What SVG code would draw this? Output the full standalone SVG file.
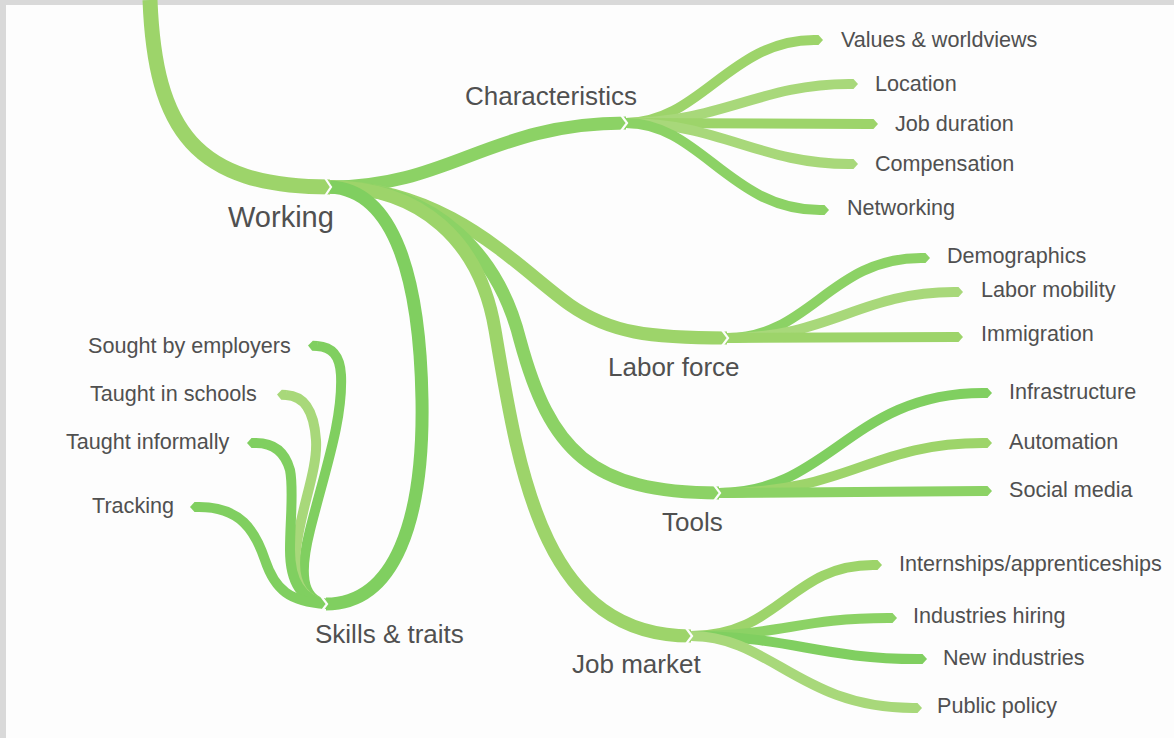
<svg xmlns="http://www.w3.org/2000/svg" width="1174" height="738" viewBox="0 0 1174 738">
<style>
.b{fill:none;stroke-linecap:butt;stroke-linejoin:round}
.g1{stroke:#9dd46a}.g2{stroke:#8cd265}.g3{stroke:#a8d87a}.g4{stroke:#80cf60}
.w14{stroke-width:15}.w12{stroke-width:13}.w10{stroke-width:10}
.sep{fill:none;stroke:#fdfdfd;stroke-width:2.2}
text{font-family:"Liberation Sans",Arial,sans-serif;fill:#505050}
.t1{font-size:29px}.t2{font-size:26px}.t3{font-size:21.6px}
</style>
<defs>
<marker id="m1" markerWidth="1" markerHeight="1" refX="0" refY="0" orient="auto" markerUnits="strokeWidth" viewBox="0 -0.5 1 1" overflow="visible"><path d="M-0.05,-0.5 L0.45,-0.5 L0.9,0 L0.45,0.5 L-0.05,0.5 Z" fill="#9dd46a"/></marker>
<marker id="m2" markerWidth="1" markerHeight="1" refX="0" refY="0" orient="auto" markerUnits="strokeWidth" viewBox="0 -0.5 1 1" overflow="visible"><path d="M-0.05,-0.5 L0.45,-0.5 L0.9,0 L0.45,0.5 L-0.05,0.5 Z" fill="#8cd265"/></marker>
<marker id="m3" markerWidth="1" markerHeight="1" refX="0" refY="0" orient="auto" markerUnits="strokeWidth" viewBox="0 -0.5 1 1" overflow="visible"><path d="M-0.05,-0.5 L0.45,-0.5 L0.9,0 L0.45,0.5 L-0.05,0.5 Z" fill="#a8d87a"/></marker>
<marker id="m4" markerWidth="1" markerHeight="1" refX="0" refY="0" orient="auto" markerUnits="strokeWidth" viewBox="0 -0.5 1 1" overflow="visible"><path d="M-0.05,-0.5 L0.45,-0.5 L0.9,0 L0.45,0.5 L-0.05,0.5 Z" fill="#80cf60"/></marker>
</defs>
<rect x="0" y="0" width="1174" height="738" fill="#d9d9d9"/>
<rect x="6" y="5" width="1168" height="733" fill="#fdfdfd"/>

<g id="connectors">
<path class="b g1 w14" d="M150,0 C155,130 195,187 330,187"/>
<path class="b g2 w12" d="M330,187 C450,187 490,123 626,123"/>
<path class="b g1 w12" d="M330,187 C450,187 520,270 570,305 C610,333 650,338 727,338"/>
<path class="b g2 w12" d="M330,187 C440,187 500,260 520,340 C550,450 590,493 719,493"/>
<path class="b g1 w12" d="M330,187 C420,187 480,240 495,330 C520,480 545,636 691,636"/>
<path class="b g4 w12" d="M330,187 C395,190 420,280 422,400 C424,520 395,604 326,604"/>

<path class="b g1 w10" marker-end="url(#m1)" d="M626,123 C700,123 730,40 814,40"/>
<path class="b g3 w10" marker-end="url(#m3)" d="M626,123 C720,123 760,84 849,84"/>
<path class="b g1 w10" marker-end="url(#m1)" d="M626,123 L869,124"/>
<path class="b g3 w10" marker-end="url(#m3)" d="M626,123 C720,123 760,164 849,164"/>
<path class="b g2 w10" marker-end="url(#m2)" d="M626,123 C700,123 730,210 820,210"/>

<path class="b g2 w10" marker-end="url(#m2)" d="M727,338 C810,338 830,258 921,258"/>
<path class="b g3 w10" marker-end="url(#m3)" d="M727,338 C830,338 860,292 954,292"/>
<path class="b g1 w10" marker-end="url(#m1)" d="M727,338 L954,337"/>

<path class="b g4 w10" marker-end="url(#m4)" d="M719,493 C830,493 850,393 983,393"/>
<path class="b g1 w10" marker-end="url(#m1)" d="M719,493 C850,493 870,443 983,443"/>
<path class="b g2 w10" marker-end="url(#m2)" d="M719,493 L983,491"/>

<path class="b g1 w10" marker-end="url(#m1)" d="M691,636 C780,636 790,565 873,565"/>
<path class="b g2 w10" marker-end="url(#m2)" d="M691,636 C780,636 800,618 888,618"/>
<path class="b g4 w10" marker-end="url(#m4)" d="M691,636 C790,636 820,659 918,659"/>
<path class="b g3 w10" marker-end="url(#m3)" d="M691,636 C770,636 800,708 913,708"/>

<path class="b g4 w10" marker-end="url(#m4)" d="M326,604 C300,600 300,570 310,530 C325,470 343,420 341,375 C340,355 332,347 317,346"/>
<path class="b g3 w10" marker-end="url(#m3)" d="M326,604 C300,600 292,580 296,550 C300,510 318,470 316,440 C314,410 304,396 286,395"/>
<path class="b g4 w10" marker-end="url(#m4)" d="M326,604 C300,600 290,580 290,550 C290,520 294,490 290,470 C285,452 274,443 256,443"/>
<path class="b g4 w10" marker-end="url(#m4)" d="M326,604 C290,602 275,590 265,560 C255,530 240,507 199,507"/>

<polyline class="sep" points="325,178 331,187 325,196"/>
<polyline class="sep" points="621,115 627,123 621,131"/>
<polyline class="sep" points="722,330 728,338 722,346"/>
<polyline class="sep" points="714,485 720,493 714,501"/>
<polyline class="sep" points="686,628 692,636 686,644"/>
<polyline class="sep" points="321,596 327,604 321,612"/>
</g>

<g id="working"><text class="t1" x="228" y="227">Working</text></g>
<g id="characteristics"><text class="t2" x="465" y="105">Characteristics</text></g>
<g id="labor-force"><text class="t2" x="608" y="376">Labor force</text></g>
<g id="tools"><text class="t2" x="662" y="531">Tools</text></g>
<g id="job-market"><text class="t2" x="572" y="673">Job market</text></g>
<g id="skills"><text class="t2" x="315" y="643">Skills &amp; traits</text></g>

<g id="values"><text class="t3" x="841" y="47">Values &amp; worldviews</text></g>
<g id="location"><text class="t3" x="875" y="91">Location</text></g>
<g id="job-duration"><text class="t3" x="895" y="131">Job duration</text></g>
<g id="compensation"><text class="t3" x="875" y="171">Compensation</text></g>
<g id="networking"><text class="t3" x="847" y="215">Networking</text></g>

<g id="demographics"><text class="t3" x="947" y="263">Demographics</text></g>
<g id="labor-mobility"><text class="t3" x="981" y="297">Labor mobility</text></g>
<g id="immigration"><text class="t3" x="981" y="341">Immigration</text></g>

<g id="infrastructure"><text class="t3" x="1009" y="399">Infrastructure</text></g>
<g id="automation"><text class="t3" x="1009" y="449">Automation</text></g>
<g id="social-media"><text class="t3" x="1009" y="497">Social media</text></g>

<g id="internships"><text class="t3" x="899" y="571">Internships/apprenticeships</text></g>
<g id="industries-hiring"><text class="t3" x="913" y="623">Industries hiring</text></g>
<g id="new-industries"><text class="t3" x="943" y="665">New industries</text></g>
<g id="public-policy"><text class="t3" x="937" y="713">Public policy</text></g>

<g id="sought"><text class="t3" x="88" y="353">Sought by employers</text></g>
<g id="schools"><text class="t3" x="90" y="401">Taught in schools</text></g>
<g id="informally"><text class="t3" x="66" y="449">Taught informally</text></g>
<g id="tracking"><text class="t3" x="92" y="513">Tracking</text></g>
</svg>
